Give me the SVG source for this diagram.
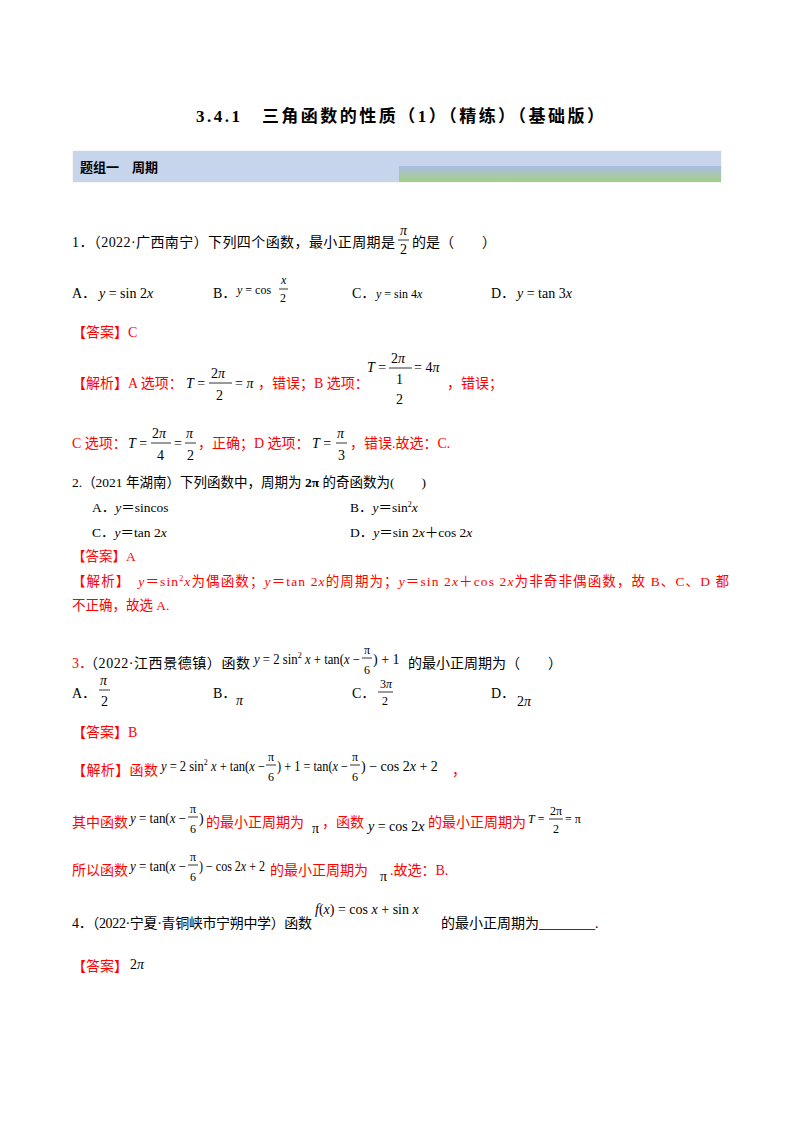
<svg xmlns="http://www.w3.org/2000/svg" width="800" height="1132" viewBox="0 0 800 1132">
<defs>
<style>
text{font-family:"Liberation Serif","Noto Sans CJK SC",serif;font-size:14px;fill:#000}
.r{fill:#f00}
.i{font-style:italic}
.s{font-size:12px}
.b{font-weight:bold}
line{stroke:#000;stroke-width:0.8}
</style>
<linearGradient id="g" x1="0" y1="0" x2="0" y2="1"><stop offset="0" stop-color="#a9bde2"/><stop offset="1" stop-color="#a3d084"/></linearGradient>
</defs>
<rect width="800" height="1132" fill="#fff"/>
<text x="196" y="122" class="b" style="font-size:17px" textLength="408">3.4.1　三角函数的性质（1）（精练）（基础版）</text>
<rect x="73" y="151" width="648" height="31" fill="#c6d4ec" stroke="#d8d8d8" stroke-width="0.5"/>
<rect x="399" y="166" width="322" height="16" fill="url(#g)"/>
<text x="80" y="172" class="b" style="font-size:13px">题组一　周期</text>

<g id="q1">
<text x="72" y="247" textLength="323">1．（2022·广西南宁）下列四个函数，最小正周期是</text>
<text x="400" y="235" class="i">π</text><line x1="398" y1="240" x2="409" y2="240"/><text x="400" y="254">2</text>
<text x="412" y="247">的是（　　）</text>
<text x="72" y="298">A．</text><text x="99" y="298"><tspan class="i">y</tspan> = sin 2<tspan class="i">x</tspan></text>
<text x="213" y="298">B．</text><text x="237" y="294" class="s"><tspan class="i">y</tspan> = cos</text>
<text x="281" y="284" class="s i">x</text><line x1="279" y1="289" x2="288" y2="289"/><text x="280" y="302" class="s">2</text>
<text x="352" y="298">C．</text><text x="376" y="298" class="s"><tspan class="i">y</tspan> = sin 4<tspan class="i">x</tspan></text>
<text x="491" y="298">D．</text><text x="517" y="298"><tspan class="i">y</tspan> = tan 3<tspan class="i">x</tspan></text>
<text x="72" y="337" class="r">【答案】C</text>
<text x="72" y="388" class="r">【解析】A 选项：</text>
<text x="186" y="388"><tspan class="i">T</tspan> =</text>
<text x="211" y="378">2<tspan class="i">π</tspan></text><line x1="209" y1="383" x2="232" y2="383"/><text x="216" y="400">2</text>
<text x="235" y="388">= <tspan class="i">π</tspan></text>
<text x="258" y="388" class="r">，错误；B 选项：</text>
<text x="367" y="372"><tspan class="i">T</tspan> =</text>
<text x="391" y="363">2<tspan class="i">π</tspan></text><line x1="389" y1="368" x2="412" y2="368"/><text x="396" y="384">1</text>
<text x="414" y="372">= 4<tspan class="i">π</tspan></text>
<text x="396" y="404">2</text>
<text x="447" y="388" class="r">，错误；</text>
<text x="72" y="448" class="r">C 选项：</text>
<text x="128" y="448"><tspan class="i">T</tspan> =</text>
<text x="152" y="438">2<tspan class="i">π</tspan></text><line x1="151" y1="443" x2="171" y2="443"/><text x="157" y="460">4</text>
<text x="174" y="448">=</text>
<text x="186" y="438" class="i">π</text><line x1="185" y1="443" x2="196" y2="443"/><text x="187" y="460">2</text>
<text x="198" y="448" class="r">，正确；D 选项：</text>
<text x="312" y="448"><tspan class="i">T</tspan> =</text>
<text x="337" y="438" class="i">π</text><line x1="336" y1="443" x2="347" y2="443"/><text x="338" y="460">3</text>
<text x="350" y="448" class="r">，错误.故选：C.</text>
</g>

<g id="q2">
<text x="72" y="487" style="font-size:13.5px">2.（2021 年湖南）下列函数中，周期为 <tspan class="b">2π</tspan> 的奇函数为(　　)</text>
<text x="92" y="512" style="font-size:13.5px">A．<tspan class="i">y</tspan>＝sincos</text>
<text x="350" y="512" style="font-size:13.5px">B．<tspan class="i">y</tspan>＝sin<tspan style="font-size:8px" dy="-5">2</tspan><tspan class="i" dy="5">x</tspan></text>
<text x="92" y="537" style="font-size:13.5px">C．<tspan class="i">y</tspan>＝tan 2<tspan class="i">x</tspan></text>
<text x="350" y="537" style="font-size:13.5px">D．<tspan class="i">y</tspan>＝sin 2<tspan class="i">x</tspan>＋cos 2<tspan class="i">x</tspan></text>
<text x="72" y="561" class="r" style="font-size:13.5px">【答案】A</text>
<text x="72" y="586" class="r" style="font-size:13.5px" textLength="657">【解析】　<tspan class="i">y</tspan>＝sin<tspan style="font-size:8px" dy="-5">2</tspan><tspan class="i" dy="5">x</tspan>为偶函数；<tspan class="i">y</tspan>＝tan 2<tspan class="i">x</tspan>的周期为；<tspan class="i">y</tspan>＝sin 2<tspan class="i">x</tspan>＋cos 2<tspan class="i">x</tspan>为非奇非偶函数，故 B、C、D 都</text>
<text x="72" y="610" class="r" style="font-size:13.5px">不正确，故选 A.</text>
</g>

<g id="q3">
<text x="72" y="668" class="r">3．</text>
<text x="84" y="668" textLength="166">（2022·江西景德镇）函数</text>
<text x="254" y="664" textLength="106" lengthAdjust="spacingAndGlyphs"><tspan class="i">y</tspan> = 2 sin<tspan style="font-size:9px" dy="-6">2</tspan><tspan dy="6"> </tspan><tspan class="i">x</tspan> + tan(<tspan class="i">x</tspan> −</text>
<text x="364" y="654" class="s">π</text><line x1="362" y1="658" x2="372" y2="658"/><text x="364" y="674" class="s">6</text>
<text x="373" y="664">) + 1</text>
<text x="408" y="668">的最小正周期为（　　）</text>
<text x="72" y="698">A．</text>
<text x="100" y="685" class="i">π</text><line x1="99" y1="690" x2="110" y2="690"/><text x="101" y="706">2</text>
<text x="213" y="698">B．</text><text x="236" y="705" class="i">π</text>
<text x="352" y="698">C．</text>
<text x="380" y="688" class="s">3<tspan class="i">π</tspan></text><line x1="378" y1="692" x2="393" y2="692"/><text x="382" y="705" class="s">2</text>
<text x="491" y="698">D．</text><text x="517" y="706">2<tspan class="i">π</tspan></text>
<text x="72" y="737" class="r">【答案】B</text>
<text x="72" y="775" class="r" textLength="86">【解析】函数</text>
<text x="161" y="771" textLength="104" lengthAdjust="spacingAndGlyphs"><tspan class="i">y</tspan> = 2 sin<tspan style="font-size:9px" dy="-6">2</tspan><tspan dy="6"> </tspan><tspan class="i">x</tspan> + tan(<tspan class="i">x</tspan> −</text>
<text x="268" y="761" class="s">π</text><line x1="266" y1="765" x2="276" y2="765"/><text x="268" y="781" class="s">6</text>
<text x="277" y="771" textLength="71" lengthAdjust="spacingAndGlyphs">) + 1 = tan(<tspan class="i">x</tspan> −</text>
<text x="352" y="761" class="s">π</text><line x1="350" y1="765" x2="360" y2="765"/><text x="352" y="781" class="s">6</text>
<text x="361" y="771">) − cos 2<tspan class="i">x</tspan> + 2</text>
<text x="452" y="775" class="r">，</text>
<text x="72" y="827" class="r">其中函数</text>
<text x="130" y="823" textLength="56" lengthAdjust="spacingAndGlyphs"><tspan class="i">y</tspan> = tan(<tspan class="i">x</tspan> −</text>
<text x="190" y="813" class="s">π</text><line x1="188" y1="817" x2="198" y2="817"/><text x="190" y="833" class="s">6</text>
<text x="199" y="823">)</text>
<text x="206" y="827" class="r">的最小正周期为</text>
<text x="312" y="833">π</text>
<text x="322" y="827" class="r">，函数</text>
<text x="368" y="831"><tspan class="i">y</tspan> = cos 2<tspan class="i">x</tspan></text>
<text x="428" y="827" class="r">的最小正周期为</text>
<text x="528" y="823" class="s"><tspan class="i">T</tspan> =</text>
<text x="550" y="815" class="s">2π</text><line x1="549" y1="819" x2="563" y2="819"/><text x="553" y="833" class="s">2</text>
<text x="565" y="823" class="s">= π</text>
<text x="72" y="875" class="r">所以函数</text>
<text x="130" y="871" textLength="56" lengthAdjust="spacingAndGlyphs"><tspan class="i">y</tspan> = tan(<tspan class="i">x</tspan> −</text>
<text x="190" y="861" class="s">π</text><line x1="188" y1="865" x2="198" y2="865"/><text x="190" y="881" class="s">6</text>
<text x="199" y="871" textLength="66" lengthAdjust="spacingAndGlyphs">) − cos 2<tspan class="i">x</tspan> + 2</text>
<text x="270" y="875" class="r">的最小正周期为</text>
<text x="380" y="881">π</text>
<text x="390" y="875" class="r">.故选：B.</text>
</g>

<g id="q4">
<text x="72" y="928" textLength="240">4．（2022·宁夏·青铜峡市宁朔中学）函数</text>
<text x="315" y="914"><tspan class="i">f</tspan>(<tspan class="i">x</tspan>) = cos <tspan class="i">x</tspan> + sin <tspan class="i">x</tspan></text>
<text x="441" y="928">的最小正周期为________.</text>
<text x="72" y="971" class="r">【答案】</text>
<text x="130" y="969">2<tspan class="i">π</tspan></text>
</g>
</svg>
